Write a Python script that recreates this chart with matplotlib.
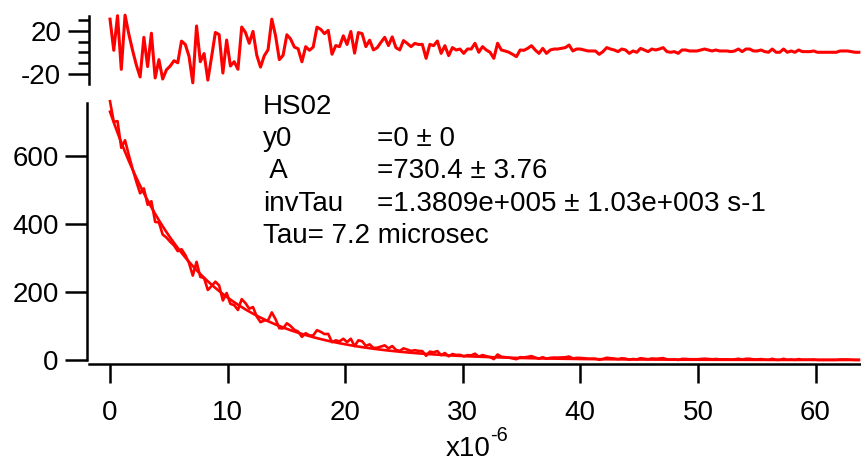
import numpy as np
import matplotlib
matplotlib.use("Agg")
import matplotlib.pyplot as plt
from matplotlib.ticker import MultipleLocator

plt.rcParams['font.family'] = ['Liberation Sans', 'DejaVu Sans']
plt.rcParams['axes.unicode_minus'] = False

# ---- fit parameters (from the annotation) ----
y0 = 0.0
A = 730.4
invTau = 1.3809e5          # s-1
dt_us = 0.32               # sample step, microseconds
n_pts = 200

# ---- residuals ----
resid = [
    30.8, 2.0, 34.0, -15.6, 34.5, 17.0, 2.0, -11.6, -22.6, 14.0,
    -13.0, 17.8, -23.5, -6.6, -24.5, -16.0, -12.5, -7.6, -9.5, 10.5,
    7.5, -3.5, -28.0, 24.5, -8.5, -1.0, -25.5, -4.0, 18.5, 16.5,
    -19.0, 11.5, -12.5, -8.5, -15.5, 23.5, 18.5, 8.5, 19.5, -2.5,
    -13.5, -3.0, 2.5, 30.8, 15.4, -6.6, -2.6, 16.4, 12.4, 5.0,
    3.4, -8.6, 5.4, 2.0, 5.0, 23.4, 21.4, 17.4, 20.4, -1.6,
    6.4, 5.4, 15.4, 7.4, 19.4, -0.6, 18.4, 17.4, 5.4, 11.4,
    2.4, 4.4, 9.4, 14.0, 6.4, 14.4, 4.4, 2.4, 11.0, 8.4,
    5.4, 8.4, 7.4, 7.5, -5.4, 7.5, 6.3, 10.6, -0.8, 6.3,
    -2.9, 4.5, 2.3, 3.2, -0.8, 3.2, 3.2, 8.5, 0.2, 5.4,
    2.3, 0.2, -5.4, 8.5, 2.3, 1.4, 0.2, -1.7, -3.8, 2.3,
    2.0, 3.8, 6.3, 2.3, -0.8, 3.8, -0.8, 2.3, 3.2, 3.2,
    3.8, 4.5, 6.9, 1.4, 3.2, 3.2, 2.3, 1.4, 1.4, 1.4,
    -1.7, 0.8, 4.5, 3.2, 2.3, 0.8, 3.2, 2.3, -0.8, 1.4,
    0.2, 3.8, 2.3, 0.8, 3.2, 2.3, 3.2, 4.5, 0.8, 0.2,
    0.8, -0.8, 2.3, 2.3, 1.4, 1.4, 1.4, 2.3, 3.2, 2.3,
    1.4, 2.3, 1.4, 1.4, 1.4, 0.8, 1.4, 3.2, 0.8, 3.2,
    3.2, 1.4, 1.4, 2.3, 0.8, 0.2, 3.2, 0.2, 0.2, 3.2,
    0.2, 1.4, 0.2, 2.3, 0.8, 0.8, 0.8, 1.4, 0.2, 0.2,
    0.2, 0.2, 0.2, 0.2, 1.4, 1.4, 1.4, 0.8, 0.2, 0.2,
]

x_ticks = [0, 10, 20, 30, 40, 50, 60]
y_ticks = [0, 200, 400, 600]
res_ticks = [-20, 20]

label_names = ['HS02', 'y0', ' A', 'invTau', 'Tau= 7.2 microsec']
label_vals = ['', '=0 \u00b1 0', '=730.4 \u00b1 3.76',
              '=1.3809e+005 \u00b1 1.03e+003 s-1', '']

t_us = np.arange(n_pts) * dt_us
fit = y0 + A * np.exp(-invTau * t_us * 1e-6)
data = fit + np.array(resid)

W, H = 862, 461
fs = 20
red = '#ff0000'

fig = plt.figure(figsize=(W / 100, H / 100), dpi=100)
ax_r = fig.add_axes([89 / W, 1 - 84 / H, (W - 89) / W, 68 / H])
ax = fig.add_axes([89 / W, 1 - 360 / H, (W - 89) / W, (360 - 103) / H])

xlim = (-1.786, 63.95)

# residual panel
ax_r.plot(t_us, resid, color=red, lw=2.2, clip_on=False)
ax_r.set_xlim(xlim)
ax_r.set_ylim(-29.1, 33.7)
for s in ['top', 'right', 'bottom']:
    ax_r.spines[s].set_visible(False)
ax_r.spines['left'].set_linewidth(1.8)
ax_r.set_xticks([])
ax_r.set_yticks(res_ticks)
ax_r.yaxis.set_minor_locator(MultipleLocator(10))
ax_r.tick_params(axis='y', which='major', direction='out', length=15,
                 width=1.8, labelsize=fs, pad=5)
ax_r.tick_params(axis='y', which='minor', direction='out', length=8,
                 width=1.8)

# main panel
ax.plot(t_us, data, color=red, lw=1.9, clip_on=False)
ax.plot(t_us, fit, color=red, lw=1.9, clip_on=False)
ax.set_xlim(xlim)
ax.set_ylim(0, 756)
for s in ['top', 'right']:
    ax.spines[s].set_visible(False)
ax.spines['bottom'].set_position(('outward', 3))
ax.spines['left'].set_position(('outward', 1.4))
ax.spines['bottom'].set_linewidth(1.8)
ax.spines['left'].set_linewidth(1.8)
ax.set_xticks(x_ticks)
ax.set_yticks(y_ticks)
ax.tick_params(axis='y', direction='out', length=15.5, width=1.8,
               labelsize=fs, pad=5)
ax.tick_params(axis='x', direction='out', length=13.5, width=1.8,
               labelsize=fs, pad=12)

# axis label x10^-6 (hyphen kept as in the original)
fig.text(491 / W, 1 - 449 / H, 'x10', fontsize=fs, ha='right', va='center')
fig.text(490 / W, 1 - 435 / H, '-6', fontsize=fs * 0.72, ha='left',
         va='center')

# annotation block
y_line = [107, 139, 171, 204, 236]
for name, val, yp in zip(label_names, label_vals, y_line):
    fig.text(263 / W, 1 - yp / H, name, fontsize=fs, ha='left', va='center')
    if val:
        fig.text(377 / W, 1 - yp / H, val, fontsize=fs, ha='left',
                 va='center')

fig.savefig('out.png', dpi=100)
